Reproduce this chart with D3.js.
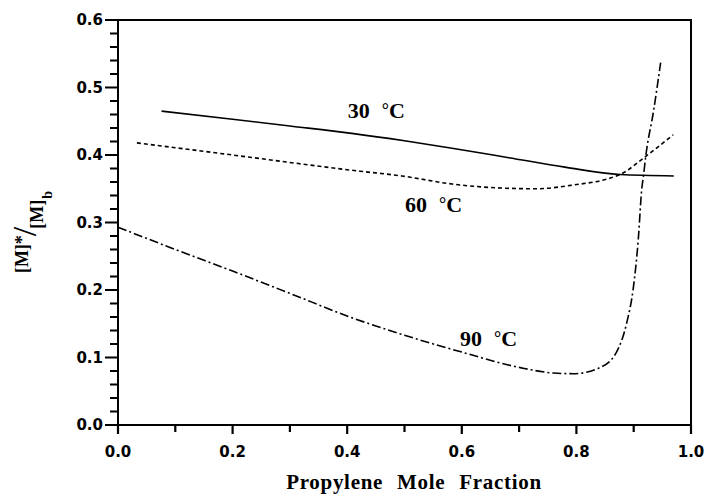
<!DOCTYPE html>
<html>
<head>
<meta charset="utf-8">
<script src="https://cdn.jsdelivr.net/npm/d3@7"></script>
<style>
  html, body { margin: 0; padding: 0; background: #fff; color: #000; }
  svg { display: block; }
  .tick-label { font-family: "DejaVu Sans", sans-serif; font-weight: bold; font-size: 15px; fill: #000; }
  .serif { font-family: "Liberation Serif", "Times New Roman", serif; font-weight: bold; fill: #000; }
</style>
</head>
<body>
<svg id="chart" width="712" height="500"></svg>
<script>
// Propylene mole fraction (x) and [M]*/[M]b (y) for each temperature
const x30 = [0.076, 0.2, 0.3, 0.408, 0.5, 0.583, 0.682, 0.78, 0.876, 0.97];
const y30 = [0.465, 0.453, 0.443, 0.432, 0.421, 0.410, 0.396, 0.382, 0.371, 0.369];

const x60 = [0.033, 0.2, 0.422, 0.495, 0.583, 0.67, 0.73, 0.79, 0.876, 0.921, 0.969];
const y60 = [0.418, 0.400, 0.376, 0.369, 0.357, 0.351, 0.350, 0.355, 0.371, 0.398, 0.430];

const x90 = [0.0, 0.1, 0.2, 0.3, 0.408, 0.5, 0.6, 0.702, 0.76, 0.795, 0.841, 0.870, 0.888, 0.899, 0.908, 0.914, 0.917, 0.921, 0.935, 0.947];
const y90 = [0.293, 0.260, 0.228, 0.195, 0.159, 0.133, 0.108, 0.085, 0.077, 0.076, 0.085, 0.108, 0.152, 0.201, 0.275, 0.349, 0.369, 0.398, 0.467, 0.537];

const xTicks = [0.0, 0.2, 0.4, 0.6, 0.8, 1.0];
const yTicks = [0.0, 0.1, 0.2, 0.3, 0.4, 0.5, 0.6];
const tempLabels = ["30", "60", "90"];

const svg = d3.select("#chart");
const margin = { top: 20, right: 21, bottom: 75, left: 118 };
const W = 712, H = 500;

const x = d3.scaleLinear().domain([0, 1]).range([margin.left, W - margin.right]);
const y = d3.scaleLinear().domain([0, 0.6]).range([H - margin.bottom, margin.top]);

// tick marks: x every 0.1, y every 0.02 (longer every 0.1)
const xTickVals = d3.range(0, 11).map(i => i / 10);
const yTickVals = d3.range(0, 31).map(i => i / 50);
const isMajorX = v => Math.abs(v * 5 - Math.round(v * 5)) < 1e-6;
const isMajorY = v => Math.abs(v * 10 - Math.round(v * 10)) < 1e-6;

const tickPath = d3.path();
xTickVals.forEach(v => {
  tickPath.moveTo(x(v), y(0));
  tickPath.lineTo(x(v), y(0) + (isMajorX(v) ? 9 : 7));
});
yTickVals.forEach(v => {
  tickPath.moveTo(x(0), y(v));
  tickPath.lineTo(x(0) - (isMajorY(v) ? 13 : 8), y(v));
});

// tick labels
const fmt = d3.format(".1f");
svg.append("g").selectAll("text").data(xTicks).join("text")
  .attr("class", "tick-label")
  .attr("text-anchor", "middle")
  .attr("x", d => x(d)).attr("y", y(0) + 32)
  .text(fmt);
svg.append("g").selectAll("text").data(yTicks).join("text")
  .attr("class", "tick-label")
  .attr("text-anchor", "end")
  .attr("dominant-baseline", "central")
  .attr("x", x(0) - 15).attr("y", d => y(d))
  .text(fmt);

// plot frame
svg.append("rect")
  .attr("x", x(0)).attr("y", y(0.6))
  .attr("width", x(1) - x(0)).attr("height", y(0) - y(0.6))
  .attr("fill", "none").attr("stroke", "#000").attr("stroke-width", 2);

// curves
const line = d3.line().x(d => x(d[0])).y(d => y(d[1])).curve(d3.curveMonotoneX);
const series = [
  { xs: x30, ys: y30, dash: null },
  { xs: x60, ys: y60, dash: "4,3" },
  { xs: x90, ys: y90, dash: "9,3,2,3" }
];
series.forEach(s => {
  svg.append("path")
    .datum(s.xs.map((v, i) => [v, s.ys[i]]))
    .attr("d", line)
    .attr("fill", "none")
    .attr("stroke", "#000")
    .attr("stroke-width", 1.6)
    .attr("stroke-dasharray", s.dash);
});

// tick marks drawn last, on top of everything
svg.append("path")
  .attr("d", tickPath.toString())
  .attr("fill", "none")
  .attr("stroke", "#000")
  .attr("stroke-width", 2.2);

// temperature annotations
const labelAt = [[0.401, 0.455], [0.501, 0.316], [0.597, 0.117]];
tempLabels.forEach((t, i) => {
  const txt = svg.append("text").attr("class", "serif").attr("font-size", 22)
    .attr("x", x(labelAt[i][0])).attr("y", y(labelAt[i][1]));
  txt.append("tspan").text(t);
  txt.append("tspan").attr("dx", 12).attr("dy", -2).attr("font-size", 18).text("°");
  txt.append("tspan").attr("dy", 2).text("C");
});

// x axis title
svg.append("text").attr("class", "serif")
  .attr("font-size", 21).attr("text-anchor", "middle")
  .attr("word-spacing", 8).attr("letter-spacing", 0.7)
  .attr("x", 414).attr("y", 489)
  .text("Propylene Mole Fraction");

// y axis title: [M]* over [M]b with a large slash
const yt = svg.append("text").attr("class", "serif")
  .attr("font-size", 18).attr("text-anchor", "middle")
  .attr("transform", "translate(28,232) rotate(-90)");
yt.append("tspan").text("[M]*");
yt.append("tspan").attr("font-size", 34).attr("font-weight", "normal").attr("dx", -1).attr("dy", 8).text("/");
yt.append("tspan").attr("dx", -2).attr("dy", 7).text("[M]");
yt.append("tspan").attr("font-size", 14).attr("dx", 1).attr("dy", 9).text("b");
</script>
</body>
</html>
